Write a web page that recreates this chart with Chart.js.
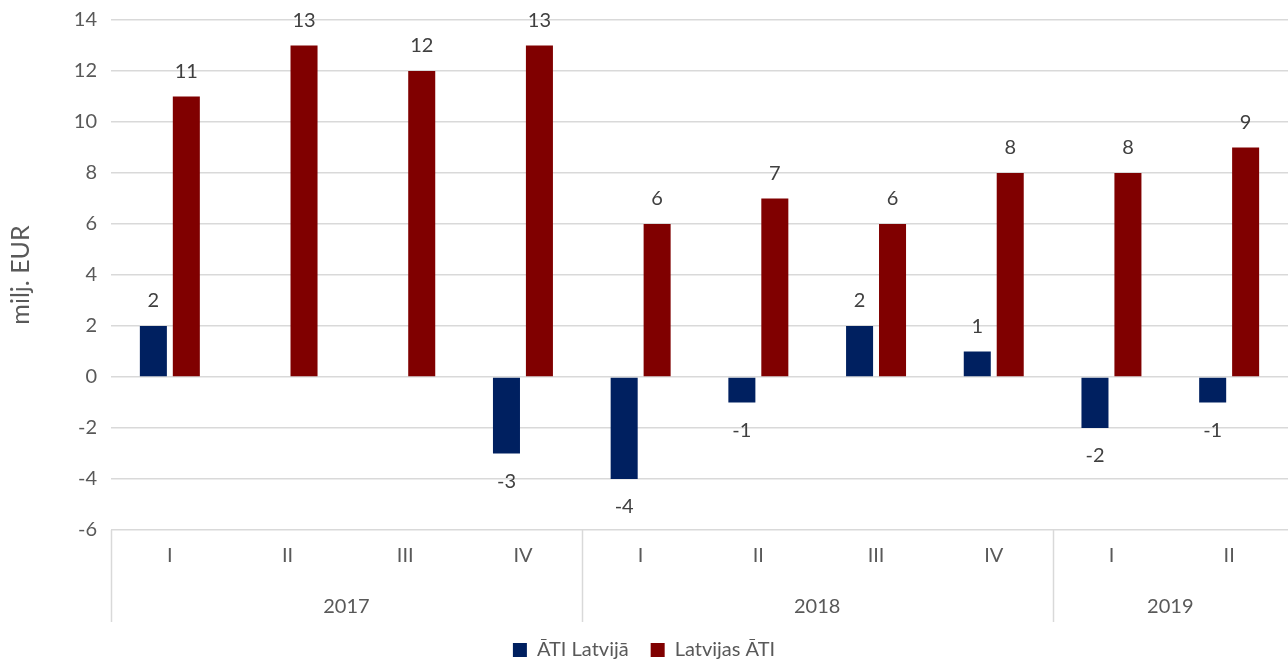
<!DOCTYPE html>
<html>
<head>
<meta charset="utf-8">
<script src="https://cdn.jsdelivr.net/npm/chart.js@4"></script>
<style>
  body { margin: 0; background: #fff; }
  .chart-wrapper { width: 1288px; height: 662px; }
</style>
</head>
<body>
<div class="chart-wrapper">
  <canvas id="myChart"></canvas>
</div>
<script>
const quarters = ['I', 'II', 'III', 'IV', 'I', 'II', 'III', 'IV', 'I', 'II']
const years = ['2017', '2018', '2019']
const quartersPerYear = [4, 4, 2]
const atiLatvija = [2, null, null, -3, -4, -1, 2, 1, -2, -1]
const latvijasAti = [11, 13, 12, 13, 6, 7, 6, 8, 8, 9]
const yTicks = { min: -6, max: 14, step: 2 }

const textColor = '#595959'
const gridColor = '#d9d9d9'
const fontFamily = 'Lato, "Open Sans", sans-serif'

// value labels above / below bars
const valueLabels = {
  id: 'valueLabels',
  afterDatasetsDraw (chart) {
    const ctx = chart.ctx
    ctx.save()
    ctx.font = `20px ${fontFamily}`
    ctx.fillStyle = '#404040'
    ctx.textAlign = 'center'
    ctx.textBaseline = 'middle'
    chart.data.datasets.forEach((ds, i) => {
      chart.getDatasetMeta(i).data.forEach((bar, j) => {
        const v = ds.data[j]
        if (v === null) return
        const y = v >= 0 ? bar.y - 25 : bar.y + 28
        ctx.fillText(String(v), bar.x, y)
      })
    })
    ctx.restore()
  }
}

// year row and separators under the quarter labels
const yearAxis = {
  id: 'yearAxis',
  afterDraw (chart) {
    const x = chart.scales.x
    const ctx = chart.ctx
    const half = (x.getPixelForValue(1) - x.getPixelForValue(0)) / 2
    const top = chart.chartArea.bottom
    const bottom = top + 92
    ctx.save()
    ctx.strokeStyle = gridColor
    ctx.lineWidth = 1.5
    ctx.font = `20px ${fontFamily}`
    ctx.fillStyle = textColor
    ctx.textAlign = 'center'
    ctx.textBaseline = 'middle'
    let start = 0
    years.forEach((year, i) => {
      const end = start + quartersPerYear[i] - 1
      const left = x.getPixelForValue(start) - half
      const right = x.getPixelForValue(end) + half
      ctx.beginPath()
      ctx.moveTo(Math.round(left) + 0.5, top)
      ctx.lineTo(Math.round(left) + 0.5, bottom)
      ctx.stroke()
      ctx.fillText(year, (left + right) / 2, top + 77)
      start = end + 1
    })
    ctx.restore()
  }
}

new Chart(document.getElementById('myChart'), {
  type: 'bar',
  data: {
    labels: quarters,
    datasets: [{
      label: 'ĀTI Latvijā',
      data: atiLatvija,
      backgroundColor: '#002060',
      categoryPercentage: 0.56,
      barPercentage: 0.82
    }, {
      label: 'Latvijas ĀTI',
      data: latvijasAti,
      backgroundColor: '#800000',
      categoryPercentage: 0.56,
      barPercentage: 0.82
    }]
  },
  options: {
    responsive: true,
    maintainAspectRatio: false,
    animation: false,
    layout: { padding: { top: 20, right: 0, left: 0, bottom: -8 } },
    plugins: {
      tooltip: { enabled: false },
      legend: {
        position: 'bottom',
        labels: {
          color: textColor,
          font: { family: fontFamily, size: 20 },
          boxWidth: 14,
          boxHeight: 14,
          padding: 22
        }
      }
    },
    scales: {
      x: {
        grid: { display: false, drawTicks: false },
        border: { display: false },
        ticks: {
          color: textColor,
          font: { family: fontFamily, size: 20 },
          padding: 14,
          maxRotation: 0
        },
        afterFit (scale) { scale.height = 88 }
      },
      y: {
        min: yTicks.min,
        max: yTicks.max,
        grid: { color: gridColor, lineWidth: 1.5, drawTicks: false },
        border: { display: false },
        ticks: {
          stepSize: yTicks.step,
          color: textColor,
          font: { family: fontFamily, size: 20 },
          padding: 14
        },
        title: {
          display: true,
          text: 'milj. EUR',
          color: textColor,
          font: { family: fontFamily, size: 25 },
          padding: { top: 6, bottom: 8 }
        },
        afterFit (scale) {
          scale.width = 111
          scale.paddingTop = 0
          scale.paddingBottom = 0
        }
      }
    }
  },
  plugins: [valueLabels, yearAxis]
})
</script>
</body>
</html>
